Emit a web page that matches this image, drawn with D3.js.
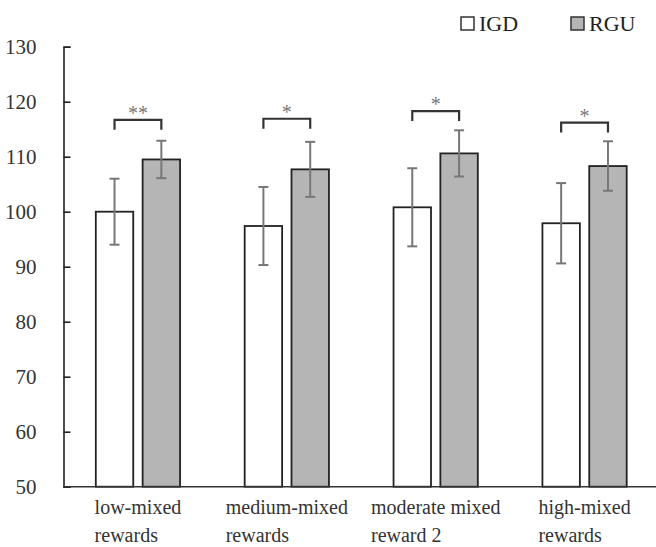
<!DOCTYPE html>
<html>
<head>
<meta charset="utf-8">
<script src="https://cdn.jsdelivr.net/npm/d3@7"></script>
<style>
  html, body { margin: 0; padding: 0; background: #fff; }
  svg { display: block; }
  svg text { font-family: "Liberation Serif", "DejaVu Serif", "Times New Roman", serif; }
</style>
</head>
<body>
<div id="chart"></div>
<script>
// Data
const categories = [
    ['low-mixed', 'rewards'],
    ['medium-mixed', 'rewards'],
    ['moderate mixed', 'reward 2'],
    ['high-mixed', 'rewards']
];
const series = ['IGD', 'RGU'];
const igdMeans = [100.0, 97.4, 100.8, 97.9];
const igdErrors = [6.0, 7.1, 7.1, 7.3];
const rguMeans = [109.5, 107.7, 110.6, 108.3];
const rguErrors = [3.4, 5.0, 4.2, 4.5];
const sigLabels = ['**', '*', '*', '*'];
const sigLevels = [116.7, 116.9, 118.3, 116.2];
const yTicks = [50, 60, 70, 80, 90, 100, 110, 120, 130];

const width = 656;
const height = 547;
const serif = '"Liberation Serif", "DejaVu Serif", "Times New Roman", serif';
const fills = { IGD: '#ffffff', RGU: '#b5b5b5' };

const svg = d3.select('#chart')
    .append('svg')
    .attr('width', width)
    .attr('height', height);

const groupKeys = categories.map((c, i) => 'g' + i);

// Scales
const y = d3.scaleLinear().domain([50, 130]).range([486.7, 46.7]);
const x0 = d3.scaleBand()
    .domain(groupKeys)
    .range([63.5, 659])
    .paddingInner(0.434)
    .paddingOuter(0.217);
const x1 = d3.scaleBand()
    .domain(series)
    .range([0, x0.bandwidth()])
    .paddingInner(0.2);

const rows = categories.map((c, i) => ({
    key: groupKeys[i],
    values: [
        { s: 'IGD', mean: igdMeans[i], err: igdErrors[i] },
        { s: 'RGU', mean: rguMeans[i], err: rguErrors[i] }
    ]
}));

// Y axis (ticks pointing inward)
const yAxis = svg.append('g')
    .attr('transform', 'translate(63.5,0)')
    .call(d3.axisLeft(y).tickValues(yTicks).tickSize(-7).tickPadding(27));
yAxis.attr('font-family', null);
yAxis.select('.domain').attr('stroke', '#222').attr('stroke-width', 1.6);
yAxis.selectAll('.tick line').attr('stroke', '#222').attr('stroke-width', 1.6);
yAxis.selectAll('.tick text')
    .style('font-family', serif)
    .attr('font-size', '21px')
    .attr('fill', '#333');

// Bars
const groups = svg.append('g').selectAll('g')
    .data(rows)
    .join('g')
    .attr('transform', d => `translate(${x0(d.key)},0)`);

groups.selectAll('rect')
    .data(d => d.values)
    .join('rect')
    .attr('x', d => x1(d.s))
    .attr('y', d => y(d.mean))
    .attr('width', x1.bandwidth())
    .attr('height', d => y(50) - y(d.mean))
    .attr('fill', d => fills[d.s])
    .attr('stroke', '#222')
    .attr('stroke-width', 1.8);

// Error bars
const errG = groups.selectAll('g.err')
    .data(d => d.values)
    .join('g')
    .attr('class', 'err')
    .attr('stroke', '#777')
    .attr('stroke-width', 2);
errG.append('line')
    .attr('x1', d => x1(d.s) + x1.bandwidth() / 2)
    .attr('x2', d => x1(d.s) + x1.bandwidth() / 2)
    .attr('y1', d => y(d.mean + d.err))
    .attr('y2', d => y(d.mean - d.err));
[1, -1].forEach(sign => {
    errG.append('line')
        .attr('x1', d => x1(d.s) + x1.bandwidth() / 2 - 5)
        .attr('x2', d => x1(d.s) + x1.bandwidth() / 2 + 5)
        .attr('y1', d => y(d.mean + sign * d.err))
        .attr('y2', d => y(d.mean + sign * d.err));
});

// X axis baseline
svg.append('line')
    .attr('x1', 63.5).attr('x2', width)
    .attr('y1', y(50)).attr('y2', y(50))
    .attr('stroke', '#333')
    .attr('stroke-width', 1.6);

// Significance brackets
groups.each(function(d, i) {
    const g = d3.select(this);
    const xa = x1('IGD') + x1.bandwidth() / 2;
    const xb = x1('RGU') + x1.bandwidth() / 2;
    const yb = y(sigLevels[i]);
    g.append('path')
        .attr('d', `M${xa},${yb + 10}V${yb}H${xb}V${yb + 10}`)
        .attr('fill', 'none')
        .attr('stroke', '#333')
        .attr('stroke-width', 2.2);
    g.append('text')
        .attr('x', (xa + xb) / 2)
        .attr('y', yb)
        .attr('text-anchor', 'middle')
        .attr('font-size', '20px')
        .attr('fill', '#777')
        .text(sigLabels[i]);
});

// Category labels: lines left-aligned, block centred under the group
const labelG = svg.append('g')
    .attr('font-size', '20px')
    .attr('fill', '#333');
categories.forEach((lines, i) => {
    const cx = x0(groupKeys[i]) + x0.bandwidth() / 2;
    const texts = lines.map((t, j) => labelG.append('text')
        .attr('y', 514 + j * 28)
        .text(t));
    const maxW = d3.max(texts, t => t.node().getComputedTextLength());
    texts.forEach(t => t.attr('x', cx - maxW / 2));
});

// Legend
const legend = svg.append('g');
const legendX = { IGD: 461, RGU: 571 };
series.forEach(s => {
    legend.append('rect')
        .attr('x', legendX[s]).attr('y', 17)
        .attr('width', 13).attr('height', 13)
        .attr('fill', fills[s])
        .attr('stroke', '#333')
        .attr('stroke-width', 1.5);
    legend.append('text')
        .attr('x', legendX[s] + 18)
        .attr('y', 31)
        .attr('font-size', '22px')
        .attr('fill', '#222')
        .text(s);
});
</script>
</body>
</html>
